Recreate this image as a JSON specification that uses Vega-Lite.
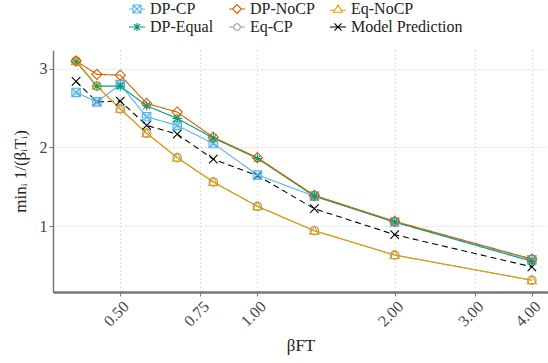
{
  "$schema": "https://vega.github.io/schema/vega-lite/v6.json",
  "width": 495,
  "height": 242,
  "autosize": {"type": "none"},
  "padding": {"left": 53, "top": 50, "right": 0, "bottom": 71},
  "config": {
    "font": "Liberation Serif",
    "view": {"stroke": null},
    "axis": {
      "labelFont": "Liberation Serif",
      "titleFont": "Liberation Serif",
      "labelFontSize": 16,
      "titleFontSize": 17,
      "titleFontWeight": "normal",
      "labelColor": "#444444",
      "titleColor": "#222222",
      "gridColor": "#c4c4c4",
      "gridDash": [1, 3],
      "gridWidth": 1,
      "domainColor": "#777777",
      "tickColor": "#777777",
      "tickSize": 4,
      "tickWidth": 1
    },
    "legend": {
      "labelFont": "Liberation Serif",
      "labelFontSize": 16,
      "labelColor": "#222222"
    }
  },
  "data": {
    "values": [
      {"beta": 0.4, "method": "Model Prediction", "value": 2.84},
      {"beta": 0.4444, "method": "Model Prediction", "value": 2.58},
      {"beta": 0.5, "method": "Model Prediction", "value": 2.59},
      {"beta": 0.5714, "method": "Model Prediction", "value": 2.28},
      {"beta": 0.6667, "method": "Model Prediction", "value": 2.17},
      {"beta": 0.8, "method": "Model Prediction", "value": 1.85},
      {"beta": 1.0, "method": "Model Prediction", "value": 1.64},
      {"beta": 1.3333, "method": "Model Prediction", "value": 1.22},
      {"beta": 2.0, "method": "Model Prediction", "value": 0.89},
      {"beta": 4.0, "method": "Model Prediction", "value": 0.48},

      {"beta": 0.4, "method": "Eq-CP", "value": 3.1},
      {"beta": 0.4444, "method": "Eq-CP", "value": 2.78},
      {"beta": 0.5, "method": "Eq-CP", "value": 2.49},
      {"beta": 0.5714, "method": "Eq-CP", "value": 2.18},
      {"beta": 0.6667, "method": "Eq-CP", "value": 1.87},
      {"beta": 0.8, "method": "Eq-CP", "value": 1.56},
      {"beta": 1.0, "method": "Eq-CP", "value": 1.25},
      {"beta": 1.3333, "method": "Eq-CP", "value": 0.94},
      {"beta": 2.0, "method": "Eq-CP", "value": 0.63},
      {"beta": 4.0, "method": "Eq-CP", "value": 0.31},

      {"beta": 0.4, "method": "DP-CP", "value": 2.7},
      {"beta": 0.4444, "method": "DP-CP", "value": 2.58},
      {"beta": 0.5, "method": "DP-CP", "value": 2.8},
      {"beta": 0.5714, "method": "DP-CP", "value": 2.39},
      {"beta": 0.6667, "method": "DP-CP", "value": 2.28},
      {"beta": 0.8, "method": "DP-CP", "value": 2.05},
      {"beta": 1.0, "method": "DP-CP", "value": 1.65},
      {"beta": 1.3333, "method": "DP-CP", "value": 1.38},
      {"beta": 2.0, "method": "DP-CP", "value": 1.05},
      {"beta": 4.0, "method": "DP-CP", "value": 0.57},

      {"beta": 0.4, "method": "DP-Equal", "value": 3.09},
      {"beta": 0.4444, "method": "DP-Equal", "value": 2.78},
      {"beta": 0.5, "method": "DP-Equal", "value": 2.78},
      {"beta": 0.5714, "method": "DP-Equal", "value": 2.53},
      {"beta": 0.6667, "method": "DP-Equal", "value": 2.37},
      {"beta": 0.8, "method": "DP-Equal", "value": 2.12},
      {"beta": 1.0, "method": "DP-Equal", "value": 1.86},
      {"beta": 1.3333, "method": "DP-Equal", "value": 1.38},
      {"beta": 2.0, "method": "DP-Equal", "value": 1.05},
      {"beta": 4.0, "method": "DP-Equal", "value": 0.55},

      {"beta": 0.4, "method": "Eq-NoCP", "value": 3.1},
      {"beta": 0.4444, "method": "Eq-NoCP", "value": 2.78},
      {"beta": 0.5, "method": "Eq-NoCP", "value": 2.49},
      {"beta": 0.5714, "method": "Eq-NoCP", "value": 2.18},
      {"beta": 0.6667, "method": "Eq-NoCP", "value": 1.87},
      {"beta": 0.8, "method": "Eq-NoCP", "value": 1.56},
      {"beta": 1.0, "method": "Eq-NoCP", "value": 1.25},
      {"beta": 1.3333, "method": "Eq-NoCP", "value": 0.94},
      {"beta": 2.0, "method": "Eq-NoCP", "value": 0.63},
      {"beta": 4.0, "method": "Eq-NoCP", "value": 0.31},

      {"beta": 0.4, "method": "DP-NoCP", "value": 3.1},
      {"beta": 0.4444, "method": "DP-NoCP", "value": 2.93},
      {"beta": 0.5, "method": "DP-NoCP", "value": 2.92},
      {"beta": 0.5714, "method": "DP-NoCP", "value": 2.56},
      {"beta": 0.6667, "method": "DP-NoCP", "value": 2.45},
      {"beta": 0.8, "method": "DP-NoCP", "value": 2.13},
      {"beta": 1.0, "method": "DP-NoCP", "value": 1.87},
      {"beta": 1.3333, "method": "DP-NoCP", "value": 1.39},
      {"beta": 2.0, "method": "DP-NoCP", "value": 1.06},
      {"beta": 4.0, "method": "DP-NoCP", "value": 0.58}
    ]
  },
  "encoding": {
    "x": {
      "field": "beta",
      "type": "quantitative",
      "scale": {"type": "log", "domain": [0.356, 4.34], "nice": false},
      "axis": {
        "values": [0.5, 0.75, 1, 2, 3, 4],
        "format": ".2f",
        "labelAngle": -45,
        "labelAlign": "right",
        "labelBaseline": "top",
        "labelPadding": 2,
        "title": "βFT",
        "titlePadding": 8,
        "grid": true,
        "domainWidth": 2.5
      }
    },
    "y": {
      "field": "value",
      "type": "quantitative",
      "scale": {"domain": [0.16, 3.24], "nice": false, "zero": false},
      "axis": {
        "values": [1, 2, 3],
        "title": "minᵢ 1/(βᵢTᵢ)",
        "titlePadding": 10,
        "grid": true,
        "domainWidth": 1.5
      }
    }
  },
  "resolve": {"scale": {"shape": "independent", "color": "independent"}},
  "layer": [
    {
      "mark": {"type": "line", "strokeWidth": 1.1},
      "encoding": {
        "color": {
          "field": "method",
          "type": "nominal",
          "scale": {
            "domain": ["DP-CP", "DP-NoCP", "Eq-NoCP", "DP-Equal", "Eq-CP", "Model Prediction"],
            "range": ["#56B4E9", "#D55E00", "#E69F00", "#009E73", "#999999", "#000000"]
          },
          "legend": null
        },
        "strokeDash": {
          "field": "method",
          "type": "nominal",
          "scale": {
            "domain": ["DP-CP", "DP-NoCP", "Eq-NoCP", "DP-Equal", "Eq-CP", "Model Prediction"],
            "range": [[1, 0], [1, 0], [1, 0], [1, 0], [1, 0], [6, 4]]
          },
          "legend": null
        }
      }
    },
    {
      "transform": [{"filter": "datum.method === 'DP-CP'"}],
      "mark": {"type": "point", "shape": "square", "filled": true, "size": 64, "opacity": 0.35, "color": "#56B4E9"}
    },
    {
      "mark": {"type": "point", "filled": false, "strokeWidth": 1.1, "size": 72, "opacity": 1},
      "encoding": {
        "color": {
          "field": "method",
          "type": "nominal",
          "scale": {
            "domain": ["DP-CP", "DP-NoCP", "Eq-NoCP", "DP-Equal", "Eq-CP", "Model Prediction"],
            "range": ["#56B4E9", "#D55E00", "#E69F00", "#009E73", "#999999", "#000000"]
          },
          "legend": null
        },
        "shape": {
          "field": "method",
          "type": "nominal",
          "scale": {
            "domain": ["DP-CP", "DP-NoCP", "Eq-NoCP", "DP-Equal", "Eq-CP", "Model Prediction"],
            "range": [
              "M-1,-1H1V1H-1ZM-1,-1L1,1M1,-1L-1,1",
              "M0,-1.2L1.2,0L0,1.2L-1.2,0Z",
              "M0,-1.1L1.1,0.8H-1.1Z",
              "M0,-1.1V1.1M-1.1,0H1.1M-0.8,-0.8L0.8,0.8M0.8,-0.8L-0.8,0.8",
              "circle",
              "M-1,-1L1,1M1,-1L-1,1"
            ]
          },
          "legend": null
        }
      }
    },
    {
      "mark": {"type": "point", "filled": false, "opacity": 0},
      "encoding": {
        "color": {
          "field": "method",
          "type": "nominal",
          "scale": {
            "domain": ["DP-CP", "DP-NoCP", "Eq-NoCP", "DP-Equal", "Eq-CP", "Model Prediction"],
            "range": ["#56B4E9", "#D55E00", "#E69F00", "#009E73", "#999999", "#000000"]
          },
          "legend": {
            "orient": "none",
            "legendX": 76,
            "legendY": -49,
            "direction": "horizontal",
            "columns": 3,
            "title": null,
            "symbolSize": 64,
            "symbolStrokeWidth": 1.1,
            "symbolOpacity": 1,
            "labelOffset": 5,
            "rowPadding": 2,
            "columnPadding": 12
          }
        },
        "shape": {
          "field": "method",
          "type": "nominal",
          "scale": {
            "domain": ["DP-CP", "DP-NoCP", "Eq-NoCP", "DP-Equal", "Eq-CP", "Model Prediction"],
            "range": [
              "M-2,0H-1M1,0H2M-1,-1H1V1H-1ZM-1,-1L1,1M1,-1L-1,1",
              "M-2,0H-1.1M1.1,0H2M0,-1.1L1.1,0L0,1.1L-1.1,0Z",
              "M-2,0.3H-0.8M0.8,0.3H2M0,-1L1.1,0.8H-1.1Z",
              "M-2,0H2M0,-1V1M-0.75,-0.75L0.75,0.75M0.75,-0.75L-0.75,0.75",
              "M-2,0H-0.8M0.8,0H2M0.8,0A0.8,0.8 0 1,1 -0.8,0A0.8,0.8 0 1,1 0.8,0Z",
              "M-2,0H2M-0.9,-0.9L0.9,0.9M0.9,-0.9L-0.9,0.9"
            ]
          },
          "legend": {
            "orient": "none",
            "legendX": 76,
            "legendY": -49,
            "direction": "horizontal",
            "columns": 3,
            "title": null,
            "symbolSize": 64,
            "symbolStrokeWidth": 1.1,
            "symbolOpacity": 1,
            "labelOffset": 5,
            "rowPadding": 2,
            "columnPadding": 12
          }
        }
      }
    }
  ]
}
